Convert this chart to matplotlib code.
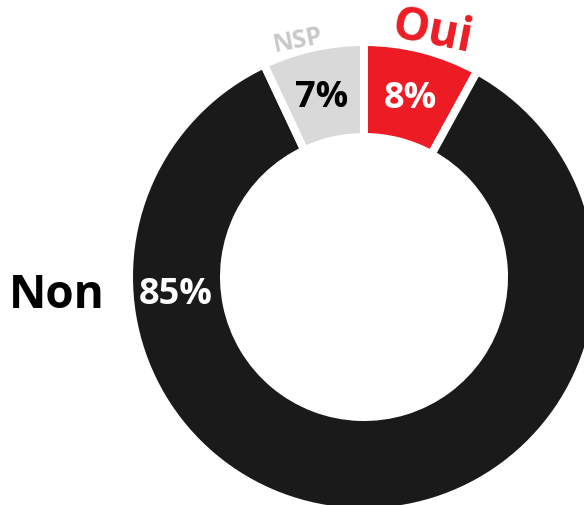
import matplotlib
matplotlib.use("Agg")
import matplotlib.pyplot as plt

# data
labels = ["Oui", "Non", "NSP"]
values = [8, 85, 7]
colors = ["#ED1C24", "#1A1A1A", "#D9D9D9"]
pct_colors = ["white", "white", "black"]
label_colors = ["#ED1C24", "black", "#C8C8C8"]

plt.rcParams["font.family"] = ["Open Sans", "DejaVu Sans"]

fig = plt.figure(figsize=(5.84, 5.06), dpi=100)
ax = fig.add_axes([0, 0, 1, 1])

cx, cy = 364, 228
gap = 8  # white gap between slices, px
wedges, _ = ax.pie(values, colors=colors, startangle=90, counterclock=False,
                   center=(cx, cy), radius=231 + gap / 2,
                   wedgeprops=dict(width=87 + gap, edgecolor="white",
                                   linewidth=gap * 72 / 100))
ax.set_xlim(0, 584)
ax.set_ylim(0, 506)
ax.axis("off")

# percentage labels
pct_pos = [(410, 407), (176, 211), (322, 408)]
for v, (x, y), c in zip(values, pct_pos, pct_colors):
    ax.text(x, y, "{}%".format(v), color=c, fontsize=26, fontweight="bold",
            ha="center", va="center")

# category labels
ax.text(432, 474, "Oui", color=label_colors[0], fontsize=33, fontweight="bold",
        ha="center", va="center", rotation=-11, rotation_mode="anchor")
ax.text(57, 211, "Non", color=label_colors[1], fontsize=33, fontweight="bold",
        ha="center", va="center")
ax.text(298, 465, "NSP", color=label_colors[2], fontsize=18, fontweight="bold",
        ha="center", va="center", rotation=11, rotation_mode="anchor")

fig.savefig("out.png", dpi=100)
